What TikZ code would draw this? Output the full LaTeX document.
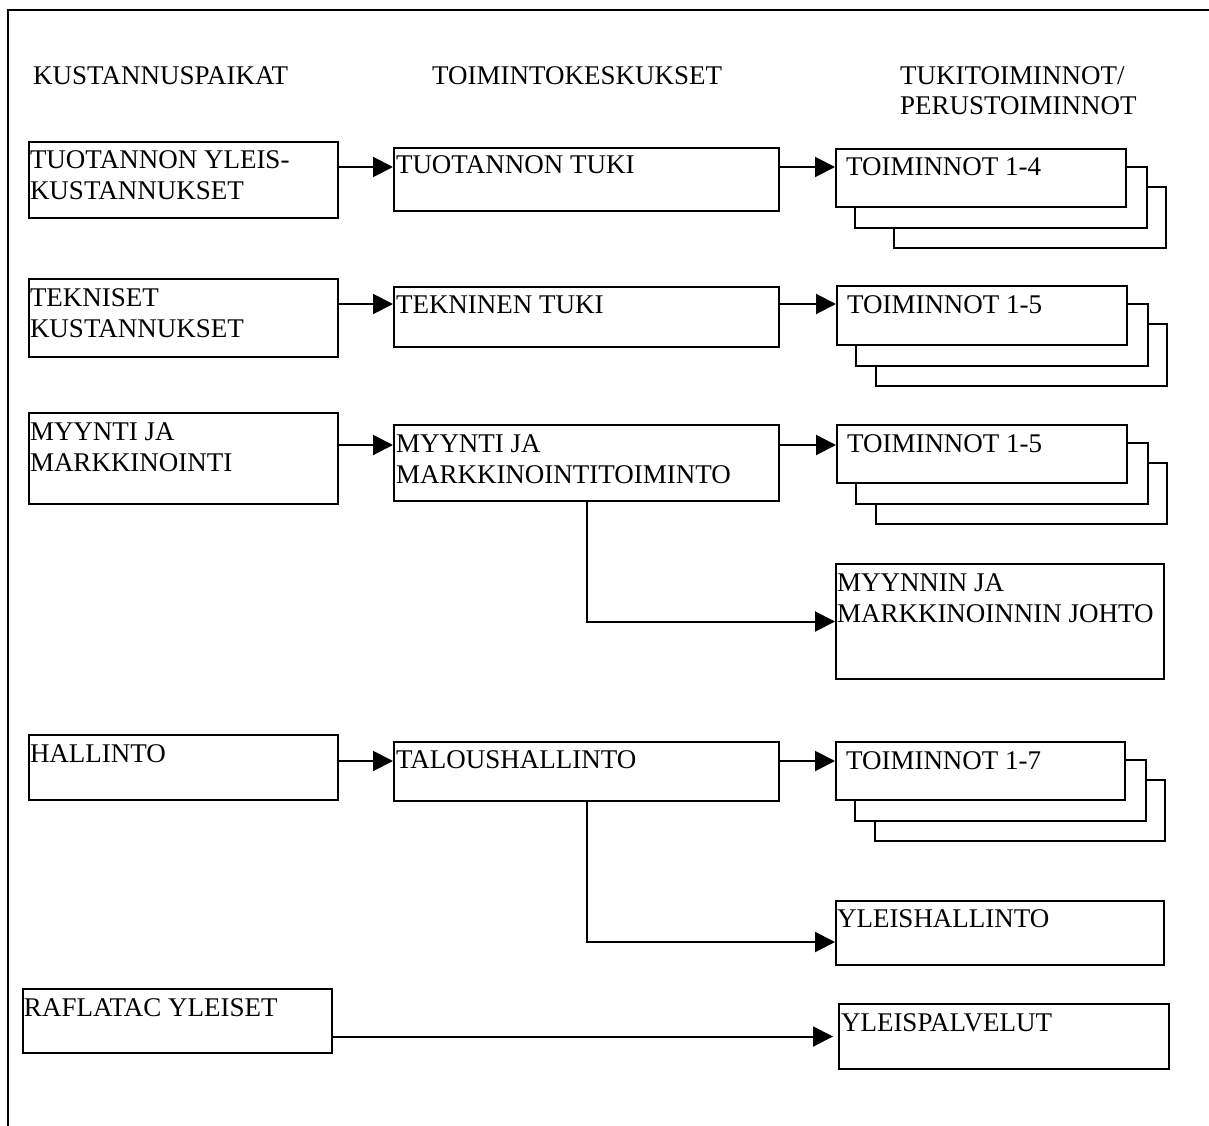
\documentclass[tikz,border=0pt]{standalone}
\usepackage{fontspec}
\setmainfont{Liberation Serif}
\usetikzlibrary{arrows.meta}

% text set inside the boxes
\newcommand\cellfont{\fontsize{27}{31}\selectfont}
% #1 width, #2 height, #3 left inset, #4 top padding, #5 text
\newcommand\celltext[5]{\parbox[t][#2][t]{#1}{\cellfont\raggedright\leftskip=#3\relax
  \vspace*{#4}\rule{0pt}{18pt}#5}}

\tikzset{
  cell/.style={draw, line width=2pt, inner sep=0pt, anchor=north west},
  hdr/.style={inner sep=0pt, anchor=base west, font=\cellfont},
  arr/.style={line width=2pt, -{Triangle[length=20pt,width=20pt]}},
  sheet/.style={line width=2pt, line join=miter},
  frame/.style={line width=2pt}
}

% two sheets stacked behind a box: #1 box, #2 left offset of the rear sheet
\newcommand\stackbehind[2]{%
  \draw[sheet] ([yshift=-19pt]#1.north east) -- ([xshift=20pt,yshift=-19pt]#1.north east)
    -- ([xshift=20pt,yshift=-20pt]#1.south east) -- ([xshift=20pt,yshift=-20pt]#1.south west)
    -- ([xshift=20pt]#1.south west);
  \draw[sheet] ([xshift=20pt,yshift=-39pt]#1.north east) -- ([xshift=39pt,yshift=-39pt]#1.north east)
    -- ([xshift=39pt,yshift=-40pt]#1.south east) -- ([xshift=#2,yshift=-40pt]#1.south west)
    -- ([xshift=#2,yshift=-20pt]#1.south west);
}

\begin{document}
\begin{tikzpicture}[x=1pt,y=-1pt]
\useasboundingbox (0,0) rectangle (1209,1126);

% page frame (left and top edges)
\draw[frame] (8,1126) -- (8,10) -- (1209,10);

% column headings
\node[hdr] (h1) at (33,85) {KUSTANNUSPAIKAT};
\node[hdr] (h2) at (432,85) {TOIMINTOKESKUKSET};
\node[hdr] (h3) at (900,85) {\parbox[t]{280pt}{\fontsize{27}{30}\selectfont\raggedright TUKITOIMINNOT/\\PERUSTOIMINNOT}};

% cost centres
\node[cell] (a1) at (28,141)  {\celltext{309pt}{76pt}{1pt}{9pt}{TUOTANNON YLEIS-\\KUSTANNUKSET}};
\node[cell] (a2) at (28,278)  {\celltext{309pt}{78pt}{1pt}{9pt}{TEKNISET\\KUSTANNUKSET}};
\node[cell] (a3) at (28,412)  {\celltext{309pt}{91pt}{1pt}{9pt}{MYYNTI JA\\MARKKINOINTI}};
\node[cell] (a4) at (28,734)  {\celltext{309pt}{65pt}{1pt}{9pt}{HALLINTO}};
\node[cell] (a5) at (22,988)  {\celltext{309pt}{64pt}{1pt}{9pt}{RAFLATAC YLEISET}};

% activity centres
\node[cell] (b1) at (393,147) {\celltext{385pt}{63pt}{2pt}{8pt}{TUOTANNON TUKI}};
\node[cell] (b2) at (393,286) {\celltext{385pt}{60pt}{2pt}{8pt}{TEKNINEN TUKI}};
\node[cell] (b3) at (393,424) {\celltext{385pt}{76pt}{2pt}{9pt}{MYYNTI JA\\MARKKINOINTITOIMINTO}};
\node[cell] (b4) at (393,741) {\celltext{385pt}{59pt}{2pt}{8pt}{TALOUSHALLINTO}};

% support / primary activities
\node[cell] (c1) at (835,148) {\celltext{290pt}{58pt}{10pt}{9pt}{TOIMINNOT 1-4}};
\stackbehind{c1}{59pt}
\node[cell] (c2) at (836,285) {\celltext{290pt}{59pt}{10pt}{9pt}{TOIMINNOT 1-5}};
\stackbehind{c2}{40pt}
\node[cell] (c3) at (836,424) {\celltext{290pt}{58pt}{10pt}{9pt}{TOIMINNOT 1-5}};
\stackbehind{c3}{40pt}
\node[cell] (c4) at (835,741) {\celltext{289pt}{58pt}{10pt}{9pt}{TOIMINNOT 1-7}};
\stackbehind{c4}{40pt}

\node[cell] (d3) at (835,563)  {\celltext{328pt}{115pt}{1pt}{9pt}{MYYNNIN JA\\MARKKINOINNIN JOHTO}};
\node[cell] (d4) at (835,900)  {\celltext{328pt}{64pt}{1pt}{8pt}{YLEISHALLINTO}};
\node[cell] (y5) at (838,1003) {\celltext{330pt}{65pt}{2pt}{9pt}{YLEISPALVELUT}};

% row levels of the connectors
\coordinate (r1) at (0,167);
\coordinate (r2) at (0,304);
\coordinate (r3) at (0,445);
\coordinate (r4) at (0,761);

\draw[arr] (a1.east |- r1) -- (b1.west |- r1);
\draw[arr] (b1.east |- r1) -- (c1.west |- r1);
\draw[arr] (a2.east |- r2) -- (b2.west |- r2);
\draw[arr] (b2.east |- r2) -- (c2.west |- r2);
\draw[arr] (a3.east |- r3) -- (b3.west |- r3);
\draw[arr] (b3.east |- r3) -- (c3.west |- r3);
\draw[arr] (a4.east |- r4) -- (b4.west |- r4);
\draw[arr] (b4.east |- r4) -- (c4.west |- r4);

\draw[arr] (b3.south) |- (d3.west);
\draw[arr] (b4.south) |- ([yshift=-9pt]d4.west);
\draw[arr] (a5.east |- y5.west) -- ([xshift=-5pt]y5.west);
\end{tikzpicture}
\end{document}
